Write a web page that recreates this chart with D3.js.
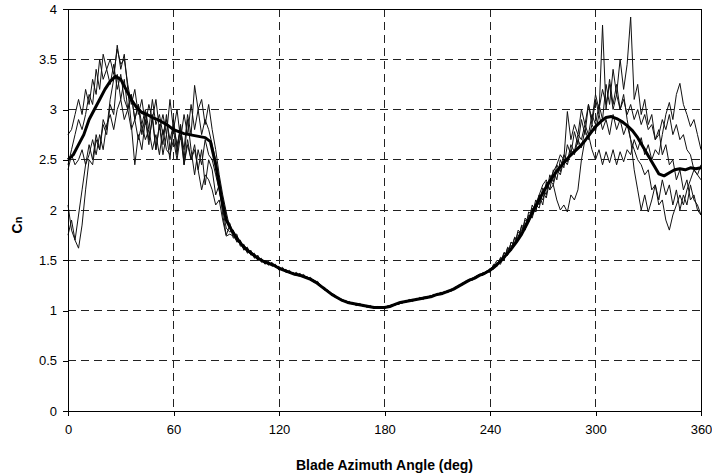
<!DOCTYPE html>
<html>
<head>
<meta charset="utf-8">
<script src="https://cdn.jsdelivr.net/npm/d3@7"></script>
<style>
  body { margin: 0; background: #fff; }
  svg { display: block; font-family: Arial, "Liberation Sans", sans-serif; }
</style>
</head>
<body>
<svg id="chart" width="712" height="476"></svg>
<script>
// azimuth samples: revolutions every 2 deg, average every 3 deg
const revAngles = d3.range(0, 361, 2)
const meanAngles = d3.range(0, 361, 3)
const xTicks = [0, 60, 120, 180, 240, 300, 360]
const yTicks = [0, 0.5, 1, 1.5, 2, 2.5, 3, 3.5, 4]

// individual revolutions (thin lines) - rows: 0-90, 92-240, 242-360
const revA = [
  2.45,2.6,2.75,2.9,2.8,2.95,3.15,3.05,3.4,3.2,3.55,3.4,3.5,3.35,3.6,3.45,3.5,3.25,3.05,3.2,2.95,3.1,2.85,
  3.05,2.9,3.1,2.8,2.95,2.75,3.1,2.8,3.0,2.7,2.95,2.75,3.05,2.8,3.0,2.75,2.9,2.8,2.65,2.5,2.3,2.1,1.9,
  1.87,1.75,1.76,1.64,1.66,1.57,1.6,1.52,1.55,1.48,1.5,1.45,1.48,1.43,1.44,1.4,1.41,1.37,1.38,1.35,
  1.37,1.33,1.34,1.3,1.3,1.26,1.25,1.2,1.2,1.15,1.15,1.11,1.11,1.08,1.09,1.06,1.07,1.05,1.06,1.03,
  1.05,1.02,1.04,1.02,1.04,1.03,1.06,1.05,1.08,1.07,1.1,1.09,1.11,1.1,1.13,1.11,1.14,1.13,1.16,1.15,
  1.18,1.17,1.2,1.19,1.23,1.23,1.27,1.27,1.31,1.3,1.34,1.34,1.38,1.37,1.42,
  1.41,1.48,1.46,1.57,1.55,1.68,1.65,1.8,1.76,1.92,1.88,2.05,1.98,2.15,2.05,2.28,2.2,2.4,2.3,2.5,
  2.42,2.65,2.55,2.78,2.65,2.9,2.75,3.05,2.85,3.1,2.95,3.84,3.0,3.3,3.05,3.25,3.0,3.15,2.9,2.7,
  2.4,2.2,2.0,2.15,1.98,2.1,2.25,2.1,2.3,2.15,2.25,2.05,2.2,2.0,2.15,2.05,2.25,2.1,2.05,1.95]
const revB = [
  1.75,1.9,1.7,1.62,1.85,2.2,2.5,2.45,2.7,2.6,2.85,2.75,3.05,2.95,3.35,3.1,3.3,3.0,3.15,2.9,3.05,2.75,2.95,
  2.7,2.9,2.6,2.85,2.65,2.95,2.6,2.8,2.55,2.85,2.5,2.9,2.6,2.35,2.6,2.45,2.7,2.55,2.5,2.35,2.2,2.0,1.82,
  1.78,1.8,1.68,1.7,1.6,1.63,1.55,1.57,1.5,1.52,1.46,1.49,1.44,1.46,1.4,1.43,1.38,1.4,1.36,1.38,
  1.34,1.36,1.32,1.33,1.28,1.29,1.23,1.23,1.18,1.17,1.13,1.13,1.09,1.1,1.07,1.08,1.05,1.07,1.04,1.05,
  1.03,1.04,1.02,1.04,1.02,1.05,1.04,1.07,1.06,1.09,1.08,1.11,1.09,1.12,1.11,1.13,1.12,1.15,1.14,1.17,
  1.16,1.19,1.18,1.21,1.21,1.25,1.25,1.29,1.29,1.32,1.32,1.36,1.35,1.39,1.39,
  1.45,1.44,1.52,1.5,1.62,1.6,1.73,1.7,1.85,1.82,1.98,1.95,2.1,2.05,2.22,2.15,2.35,2.28,2.45,2.38,
  2.55,2.48,2.65,2.58,2.75,2.7,2.85,2.75,2.95,2.85,3.05,2.9,3.25,3.05,3.4,3.15,3.5,3.2,3.45,3.92,
  3.1,3.25,2.95,3.1,2.85,2.95,2.7,2.8,2.55,2.65,2.45,2.5,2.3,2.4,2.2,2.3,2.1,2.15,2.0,1.95]
const revC = [
  2.05,1.8,1.7,1.95,2.2,2.45,2.65,2.5,2.75,2.6,2.9,2.8,3.1,3.3,3.64,3.4,3.55,3.2,2.85,2.45,2.75,2.6,2.9,
  2.65,2.95,2.6,2.85,2.55,2.75,2.5,2.9,2.6,2.85,2.45,2.7,2.5,2.65,2.4,2.6,2.25,2.5,2.4,2.15,2.25,1.95,1.75,
  1.85,1.72,1.74,1.66,1.62,1.62,1.56,1.55,1.53,1.49,1.49,1.46,1.46,1.44,1.43,1.41,1.4,1.38,1.37,1.37,
  1.35,1.35,1.33,1.32,1.3,1.28,1.25,1.22,1.2,1.17,1.15,1.12,1.11,1.09,1.08,1.07,1.06,1.06,1.05,1.04,
  1.04,1.03,1.03,1.02,1.03,1.04,1.05,1.06,1.07,1.08,1.09,1.1,1.1,1.11,1.12,1.13,1.13,1.14,1.15,1.16,
  1.17,1.18,1.19,1.21,1.22,1.24,1.26,1.28,1.3,1.31,1.33,1.35,1.37,1.38,1.4,
  1.42,1.47,1.5,1.53,1.6,1.64,1.68,1.74,1.8,1.86,1.92,2.0,2.06,2.15,2.25,2.3,2.2,2.25,2.1,2.0,
  2.05,1.98,2.15,2.1,2.2,2.5,2.7,2.75,2.6,2.5,2.6,2.45,2.58,2.47,2.6,2.45,2.58,2.48,2.6,2.55,
  2.7,2.6,2.72,2.55,2.65,2.5,2.6,2.55,2.75,2.95,3.07,2.9,3.15,3.26,3.05,2.95,2.83,2.9,2.75,2.6]
const revD = [
  2.75,2.8,2.95,3.1,2.95,3.2,3.05,3.3,3.15,3.5,3.3,3.4,3.25,3.45,3.2,3.35,3.1,3.0,3.15,2.9,3.05,2.85,3.0,
  2.8,3.1,2.85,2.95,2.75,2.9,2.7,2.85,2.65,2.8,2.6,2.95,2.75,3.24,3.0,3.1,2.85,3.05,2.8,2.6,2.35,2.15,1.98,
  1.82,1.79,1.7,1.68,1.64,1.58,1.58,1.53,1.52,1.5,1.47,1.47,1.45,1.45,1.42,1.42,1.39,1.39,1.36,1.36,
  1.35,1.33,1.33,1.3,1.29,1.26,1.24,1.21,1.19,1.16,1.14,1.12,1.1,1.09,1.08,1.06,1.06,1.05,1.05,1.04,
  1.03,1.03,1.02,1.03,1.03,1.04,1.05,1.06,1.07,1.08,1.09,1.1,1.11,1.11,1.12,1.13,1.14,1.14,1.16,1.16,
  1.18,1.18,1.2,1.2,1.23,1.24,1.27,1.28,1.31,1.32,1.34,1.36,1.37,1.39,1.41,
  1.44,1.5,1.48,1.58,1.55,1.68,1.66,1.78,1.76,1.9,1.88,2.02,1.98,2.15,2.1,2.25,2.3,2.38,2.45,2.55,
  2.5,2.98,2.7,2.85,2.75,3.0,2.85,3.05,2.9,3.15,3.0,3.2,3.05,3.25,3.0,3.15,3.0,3.1,2.95,3.05,
  2.9,3.0,2.85,2.95,2.8,2.85,2.7,2.75,2.9,2.8,2.95,2.75,2.85,2.7,2.75,2.6,2.55,2.4,2.35,2.3]
const revE = [
  2.4,2.55,2.45,2.5,2.6,2.45,2.55,2.7,2.55,2.75,2.6,2.85,2.95,2.8,3.0,3.1,2.9,3.0,2.8,2.9,2.7,2.85,2.7,
  2.8,2.6,2.75,2.55,2.8,2.6,2.55,2.7,2.5,2.75,2.45,2.65,2.5,2.6,2.4,2.2,2.35,2.3,2.2,2.05,2.1,1.9,1.74,
  1.76,1.74,1.69,1.67,1.61,1.6,1.56,1.55,1.5,1.51,1.47,1.48,1.45,1.45,1.41,1.41,1.38,1.38,1.36,1.35,
  1.34,1.34,1.32,1.31,1.28,1.27,1.23,1.21,1.18,1.16,1.13,1.12,1.1,1.09,1.07,1.07,1.05,1.06,1.04,1.05,
  1.03,1.04,1.03,1.03,1.02,1.04,1.04,1.06,1.06,1.08,1.08,1.1,1.1,1.11,1.11,1.13,1.12,1.14,1.14,1.16,
  1.16,1.18,1.18,1.21,1.21,1.25,1.25,1.29,1.29,1.32,1.32,1.35,1.35,1.39,1.38,
  1.46,1.44,1.53,1.5,1.63,1.6,1.72,1.7,1.84,1.8,1.95,1.92,2.05,2.02,2.18,2.12,2.3,2.25,2.4,2.35,
  2.5,2.45,2.6,2.55,2.7,2.62,2.8,2.7,2.85,2.78,2.95,2.8,2.9,2.75,2.95,2.8,2.9,2.75,2.85,2.7,
  2.6,2.5,2.45,2.35,2.4,2.2,2.25,2.05,2.1,1.9,1.8,1.95,2.05,2.15,2.05,2.2,2.3,2.4,2.35,2.45]

// averaged curve (thick line), every 3 deg
const meanCn = [
  2.5,2.55,2.65,2.75,2.9,3.0,3.1,3.2,3.28,3.33,
  3.3,3.2,3.1,3.02,2.97,2.95,2.92,2.9,2.87,2.84,
  2.8,2.78,2.76,2.75,2.74,2.73,2.72,2.68,2.45,2.15,
  1.9,1.8,1.72,1.65,1.6,1.56,1.52,1.49,1.47,1.45,
  1.42,1.4,1.38,1.36,1.35,1.33,1.31,1.28,1.24,1.2,
  1.16,1.13,1.1,1.08,1.07,1.06,1.05,1.04,1.03,1.03,
  1.03,1.04,1.06,1.08,1.09,1.1,1.11,1.12,1.13,1.14,
  1.16,1.17,1.19,1.21,1.24,1.27,1.3,1.32,1.35,1.37,
  1.4,1.44,1.49,1.55,1.61,1.68,1.76,1.86,1.97,2.07,
  2.17,2.26,2.34,2.41,2.47,2.53,2.58,2.63,2.69,2.76,
  2.83,2.88,2.92,2.93,2.91,2.88,2.84,2.79,2.72,2.63,
  2.54,2.45,2.36,2.34,2.37,2.4,2.41,2.4,2.42,2.41,
  2.42]

const revs = [revA, revB, revC, revD, revE]

const width = 712, height = 476
const margin = { top: 9, right: 11, bottom: 65, left: 68 }
const iw = width - margin.left - margin.right
const ih = height - margin.top - margin.bottom

const svg = d3.select('#chart')
const g = svg.append('g').attr('transform', `translate(${margin.left},${margin.top})`)

const x = d3.scaleLinear().domain([0, 360]).range([0, iw])
const y = d3.scaleLinear().domain([0, 4]).range([ih, 0])

// dashed grid
g.append('g')
  .selectAll('line')
  .data(yTicks.slice(1, -1))
  .join('line')
  .attr('x1', 0).attr('x2', iw)
  .attr('y1', d => y(d)).attr('y2', d => y(d))
  .attr('stroke', '#222')
  .attr('stroke-dasharray', '8,5')
  .attr('shape-rendering', 'crispEdges')
g.append('g')
  .selectAll('line')
  .data(xTicks.slice(1, -1))
  .join('line')
  .attr('x1', d => x(d)).attr('x2', d => x(d))
  .attr('y1', 0).attr('y2', ih)
  .attr('stroke', '#222')
  .attr('stroke-dasharray', '8,5')
  .attr('shape-rendering', 'crispEdges')

const revLine = d3.line()
  .defined((d, i) => revAngles[i] !== undefined)
  .x((d, i) => x(revAngles[i]))
  .y(d => y(d))
const meanLine = d3.line()
  .x((d, i) => x(meanAngles[i]))
  .y(d => y(d))

g.append('g')
  .selectAll('path')
  .data(revs)
  .join('path')
  .attr('d', revLine)
  .attr('fill', 'none')
  .attr('stroke', '#111')
  .attr('stroke-width', 1)
  .attr('stroke-linejoin', 'round')

g.append('path')
  .datum(meanCn)
  .attr('d', meanLine)
  .attr('fill', 'none')
  .attr('stroke', '#000')
  .attr('stroke-width', 3)
  .attr('stroke-linejoin', 'round')

// frame: top and right border
g.append('line').attr('x1', 0).attr('x2', iw).attr('y1', 0).attr('y2', 0)
  .attr('stroke', '#000').attr('shape-rendering', 'crispEdges')
g.append('line').attr('x1', iw).attr('x2', iw).attr('y1', 0).attr('y2', ih)
  .attr('stroke', '#000').attr('shape-rendering', 'crispEdges')

const xAxis = g.append('g')
  .attr('transform', `translate(0,${ih})`)
  .call(d3.axisBottom(x).tickValues(xTicks).tickSizeInner(5).tickSizeOuter(0).tickPadding(9))
const yAxis = g.append('g')
  .call(d3.axisLeft(y).tickValues(yTicks).tickFormat(d3.format('')).tickSizeInner(5).tickSizeOuter(0).tickPadding(6))

for (const ax of [xAxis, yAxis]) {
  ax.select('.domain').attr('stroke', '#000').attr('shape-rendering', 'crispEdges')
  ax.selectAll('.tick line').attr('stroke', '#000').attr('shape-rendering', 'crispEdges')
  ax.selectAll('.tick text')
    .attr('fill', '#000')
    .style('font-size', '13px')
    .style('font-family', 'Arial, "Liberation Sans", sans-serif')
}

svg.append('text')
  .attr('x', margin.left + iw / 2)
  .attr('y', 470)
  .attr('text-anchor', 'middle')
  .style('font-size', '14px')
  .style('font-weight', 'bold')
  .text('Blade Azimuth Angle (deg)')

const yt = svg.append('text')
  .attr('transform', 'translate(22,225) rotate(-90)')
  .attr('text-anchor', 'middle')
  .style('font-weight', 'bold')
  .style('font-size', '14px')
yt.append('tspan').text('C')
yt.append('tspan').style('font-size', '11px').text('n')
</script>
</body>
</html>
